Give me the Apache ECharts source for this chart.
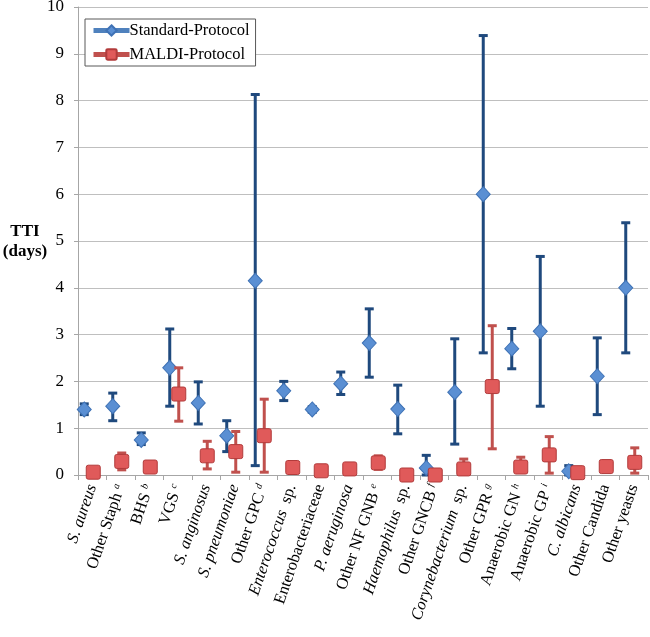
<!DOCTYPE html>
<html>
<head>
<meta charset="utf-8">
<script src="https://cdn.jsdelivr.net/npm/echarts@6/dist/echarts.min.js"></script>
<style>html,body{margin:0;padding:0;background:#fff;}#c{width:650px;height:637px;}</style>
</head>
<body>
<div id="c"></div>
<script>
// Category tick labels (rich-text markup for italics / superscripts)
var categories = [
  '{i|S. aureus}',
  '{n|Other Staph }{s|a}',
  '{n|BHS }{s|b}',
  '{n|VGS }{s|c}',
  '{i|S. anginosus}',
  '{i|S. pneumoniae}',
  '{n|Other GPC }{s|d}',
  '{i|Enterococcus}{n|  sp.}',
  '{n|Enterobacteriaceae}',
  '{i|P. aeruginosa}',
  '{n|Other NF GNB }{s|e}',
  '{i|Haemophilus}{n|  sp.}',
  '{n|Other GNCB }{s|f}',
  '{i|Corynebacterium}{n|  sp.}',
  '{n|Other GPR }{s|g}',
  '{n|Anaerobic GN }{s|h}',
  '{n|Anaerobic GP }{s|i}',
  '{i|C. albicans}',
  '{n|Other Candida}',
  '{n|Other yeasts}'
];
var seriesNames = ['Standard-Protocol', 'MALDI-Protocol'];
var yTicks = [0,1,2,3,4,5,6,7,8,9,10];
var yTitle = 'TTI\n(days)';

var stdMean = [1.40,1.47,0.75,2.29,1.54,0.84,4.15,1.80,1.40,1.95,2.82,1.41,0.15,1.77,6.00,2.70,3.07,0.08,2.11,4.00];
var stdLow  = [1.29,1.16,0.65,1.47,1.09,0.50,0.20,1.59,1.34,1.72,2.09,0.88,0.00,0.66,2.61,2.27,1.47,0.00,1.29,2.61];
var stdHigh = [1.52,1.75,0.90,3.12,1.99,1.16,8.13,2.00,1.46,2.20,3.55,1.92,0.42,2.91,9.39,3.13,4.67,0.20,2.93,5.39];

var malMean = [0.06,0.29,0.17,1.73,0.41,0.50,0.84,0.16,0.09,0.13,0.26,0.00,0.00,0.13,1.89,0.17,0.43,0.05,0.18,0.27];
var malLow  = [0.06,0.11,0.17,1.15,0.13,0.06,0.06,0.16,0.09,0.13,0.12,0.00,0.00,0.07,0.56,0.10,0.04,0.05,0.18,0.04];
var malHigh = [0.06,0.47,0.17,2.29,0.72,0.93,1.62,0.16,0.09,0.13,0.41,0.00,0.00,0.34,3.19,0.38,0.82,0.05,0.18,0.58];

var BLUE_ERR = '#1F497D', RED_ERR = '#C0504D';
var BLUE_FILL = '#5A8FD3', RED_FILL = '#E05A5A';
var SERIF = '"Liberation Serif","Times New Roman",serif';
var SQUARE = 'path://M2,0 H12 Q14,0 14,2 V12 Q14,14 12,14 H2 Q0,14 0,12 V2 Q0,0 2,0 Z';

function errData(lo, hi) {
  return lo.map(function (v, i) { return [i, v, hi[i]]; });
}
function errRender(offset, color, width) {
  return function (params, api) {
    var lo = api.coord([api.value(0), api.value(1)]);
    var hi = api.coord([api.value(0), api.value(2)]);
    if (Math.abs(hi[1] - lo[1]) < 1) return null;
    var x = lo[0] + offset, cw = 4.5;
    var st = { stroke: color, lineWidth: width };
    return {
      type: 'group',
      children: [
        { type: 'line', shape: { x1: x, y1: lo[1], x2: x, y2: hi[1] }, style: st },
        { type: 'line', shape: { x1: x - cw, y1: lo[1], x2: x + cw, y2: lo[1] }, style: st },
        { type: 'line', shape: { x1: x - cw, y1: hi[1], x2: x + cw, y2: hi[1] }, style: st }
      ]
    };
  };
}

var chart = echarts.init(document.getElementById('c'), null, { renderer: 'canvas' });
chart.setOption({
  animation: false,
  backgroundColor: '#fff',
  textStyle: { fontFamily: SERIF },
  title: {
    text: yTitle,
    left: 25, top: 222, textAlign: 'center', padding: 0,
    textStyle: { fontFamily: SERIF, fontSize: 17, fontWeight: 'bold', color: '#000', lineHeight: 20, align: 'center' }
  },
  grid: { left: 78, right: 2, top: 7, bottom: 162, containLabel: false, outerBoundsMode: 'none' },
  legend: {
    left: 85, top: 19,
    orient: 'vertical',
    data: seriesNames,
    itemWidth: 36, itemHeight: 13, itemGap: 7,
    padding: [3, 6, 3, 6],
    borderColor: '#595959', borderWidth: 1,
    backgroundColor: '#fff',
    textStyle: { fontFamily: SERIF, fontSize: 16.5, color: '#000', padding: [0, 0, 0, -5] },
    lineStyle: { width: 5, opacity: 1 }
  },
  xAxis: {
    type: 'category',
    data: categories,
    boundaryGap: true,
    axisLine: { lineStyle: { color: '#A6A6A6', width: 1 } },
    axisTick: { show: true, length: 5, lineStyle: { color: '#A6A6A6' } },
    axisLabel: {
      interval: 0, rotate: 71, margin: 10, color: '#000',
      fontFamily: SERIF, fontSize: 16.5,
      rich: {
        i: { fontFamily: SERIF, fontSize: 16.5, fontStyle: 'italic', color: '#000' },
        n: { fontFamily: SERIF, fontSize: 16.5, color: '#000' },
        s: { fontFamily: SERIF, fontSize: 10, fontStyle: 'italic', color: '#000', verticalAlign: 'top', lineHeight: 16 }
      }
    }
  },
  yAxis: {
    type: 'value', min: 0, max: 10, interval: 1,
    axisLine: { show: true, lineStyle: { color: '#A6A6A6' } },
    axisTick: { show: true, length: 4, lineStyle: { color: '#A6A6A6' } },
    splitLine: { lineStyle: { color: '#BFBFBF', width: 1 } },
    axisLabel: {
      color: '#000', fontFamily: SERIF, fontSize: 17, margin: 14,
      formatter: function (v) { return yTicks.indexOf(v) >= 0 ? String(v) : ''; }
    }
  },
  series: [
    {
      name: 'stdErr', type: 'custom', z: 2,
      renderItem: errRender(-8, BLUE_ERR, 3),
      data: errData(stdLow, stdHigh), clip: false, silent: true
    },
    {
      name: seriesNames[0], type: 'line', z: 3,
      data: stdMean, symbol: 'diamond', symbolSize: [14, 15], symbolOffset: [-8, 0],
      showSymbol: true, showAllSymbol: true, clip: false,
      color: BLUE_FILL,
      itemStyle: { color: BLUE_FILL, borderColor: '#3F72B5', borderWidth: 1 },
      lineStyle: { color: '#4F81BD', width: 0, opacity: 0 }
    },
    {
      name: 'malErr', type: 'custom', z: 4,
      renderItem: errRender(1, RED_ERR, 3),
      data: errData(malLow, malHigh), clip: false, silent: true
    },
    {
      name: seriesNames[1], type: 'line', z: 5,
      data: malMean, symbol: SQUARE, symbolSize: 14, symbolOffset: [1, 0],
      showSymbol: true, showAllSymbol: true, clip: false,
      color: RED_FILL,
      itemStyle: { color: RED_FILL, borderColor: '#B23B3B', borderWidth: 1 },
      lineStyle: { color: '#C0504D', width: 0, opacity: 0 }
    }
  ]
});
</script>
</body>
</html>
